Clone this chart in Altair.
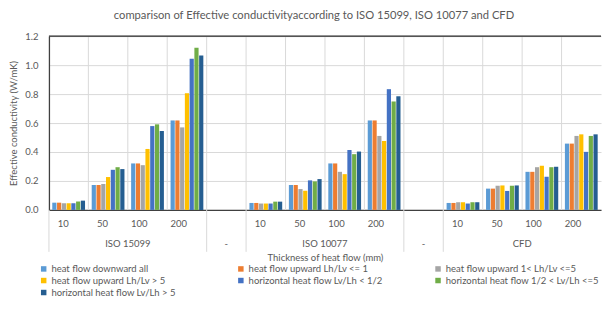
import altair as alt
import pandas as pd

groups = ["ISO 15099", "ISO 10077", "CFD"]
thicknesses = ["10", "50", "100", "200"]
series = [
    "heat flow downward all",
    "heat flow upward  Lh/Lv <= 1",
    "heat flow upward  1<  Lh/Lv <=5",
    "heat flow upward  Lh/Lv > 5",
    "horizontal heat flow  Lv/Lh < 1/2",
    "horizontal heat flow  1/2 <  Lv/Lh <=5",
    "horizontal heat flow  Lv/Lh > 5",
]
colors = ["#5B9BD5", "#ED7D31", "#A5A5A5", "#FFC000", "#4472C4", "#70AD47", "#255E91"]

# values per series: ISO 15099 (10,50,100,200), ISO 10077 (...), CFD (...)
s_down = [0.050, 0.172, 0.321, 0.618, 0.048, 0.172, 0.321, 0.618, 0.048, 0.147, 0.263, 0.458]
s_up1 = [0.050, 0.172, 0.321, 0.618, 0.048, 0.172, 0.321, 0.618, 0.048, 0.147, 0.263, 0.458]
s_up15 = [0.046, 0.179, 0.309, 0.570, 0.044, 0.144, 0.263, 0.511, 0.053, 0.167, 0.295, 0.511]
s_up5 = [0.046, 0.227, 0.421, 0.806, 0.044, 0.133, 0.247, 0.476, 0.053, 0.169, 0.305, 0.522]
s_h12 = [0.046, 0.277, 0.579, 1.044, 0.044, 0.204, 0.414, 0.834, 0.044, 0.131, 0.229, 0.401]
s_h125 = [0.058, 0.295, 0.591, 1.120, 0.057, 0.197, 0.385, 0.749, 0.053, 0.167, 0.295, 0.511]
s_h5 = [0.064, 0.282, 0.545, 1.067, 0.057, 0.213, 0.403, 0.785, 0.053, 0.169, 0.298, 0.522]
all_values = [s_down, s_up1, s_up15, s_up5, s_h12, s_h125, s_h5]
y_ticks = [0, 0.2, 0.4, 0.6, 0.8, 1.0, 1.2]

# slot keys (with empty "-" gap slots between groups)
slots = []
for gi, g in enumerate(groups):
    for t in thicknesses:
        slots.append(f"{g}|{t}")
    if gi < len(groups) - 1:
        slots.append(f"-{gi}|")

rows = []
for si, s in enumerate(series):
    for gi, g in enumerate(groups):
        for ti, t in enumerate(thicknesses):
            rows.append({"slot": f"{g}|{t}", "series": s, "value": all_values[si][gi * 4 + ti]})
df = pd.DataFrame(rows)

W, H = 553, 174
GRAY = "#595959"
FS = 9.5
xscale = alt.Scale(domain=slots, paddingInner=0, paddingOuter=0)

bars = alt.Chart(df).mark_bar().encode(
    x=alt.X("slot:N", scale=xscale, sort=slots,
            axis=alt.Axis(title="Thickness of heat flow (mm)", labelExpr="split(datum.value, '|')[1]",
                          labelAngle=0, ticks=False, tickSize=0, labelPadding=14, grid=False,
                          domainColor="#404040", domainWidth=1.3, labelColor=GRAY, labelFontSize=FS,
                          titleColor=GRAY, titleFontSize=FS, titleFontWeight="normal", titlePadding=24.5)),
    xOffset=alt.XOffset("series:N", sort=series, scale=alt.Scale(paddingInner=0.12, paddingOuter=0.7)),
    y=alt.Y("value:Q", scale=alt.Scale(domain=[0, 1.2]),
            axis=alt.Axis(title="Effective conductivity (W/mK)", values=y_ticks, labelOverlap=False,
                          format=".1f", ticks=False, tickSize=0, labelPadding=11,
                          gridColor="#D9D9D9", domainColor="#404040", domainWidth=1.3,
                          labelColor=GRAY, labelFontSize=FS, titleColor=GRAY, titleFontSize=FS,
                          titleFontWeight="normal", titlePadding=6)),
    color=alt.Color("series:N", sort=series, scale=alt.Scale(domain=series, range=colors),
                    legend=alt.Legend(title=None, orient="none", legendX=-10, legendY=H + 54,
                                      columns=3, direction="horizontal", gridAlign="all",
                                      columnPadding=26.5, rowPadding=1, symbolType="square",
                                      symbolSize=30, symbolStrokeWidth=0, labelFontSize=FS,
                                      labelLimit=220, labelColor=GRAY, symbolOffset=0, labelOffset=3)),
)

# vertical grid lines
inner = pd.DataFrame({"slot": [s for i, s in enumerate(slots) if i > 0]})
long_keys = [slots[0]] + [slots[i] for i in range(len(slots))
                          if slots[i].startswith("-") or (i > 0 and slots[i - 1].startswith("-"))]
inner_lines = alt.Chart(inner).mark_rule(color="#D9D9D9", strokeWidth=1).encode(
    x=alt.X("slot:N", scale=xscale, sort=slots, bandPosition=0),
    y=alt.value(0), y2=alt.value(H),
)
long_lines = alt.Chart(pd.DataFrame({"slot": long_keys})).mark_rule(color="#D9D9D9", strokeWidth=1).encode(
    x=alt.X("slot:N", scale=xscale, sort=slots, bandPosition=0),
    y=alt.value(H), y2=alt.value(H + 42),
)
top_border = alt.Chart(pd.DataFrame({"v": [1.2]})).mark_rule(color="#262626", strokeWidth=1.3).encode(
    x=alt.value(0), x2=alt.value(W), y=alt.value(0)
)

group_df = pd.DataFrame({"slot": [f"{g}|50" for g in groups], "label": groups})
group_text = alt.Chart(group_df).mark_text(fontSize=FS, color=GRAY, baseline="middle").encode(
    x=alt.X("slot:N", scale=xscale, sort=slots, bandPosition=1),
    y=alt.value(H + 34), text="label:N",
)
gap_df = pd.DataFrame({"slot": [s for s in slots if s.startswith("-")], "label": ["-", "-"]})
gap_text = alt.Chart(gap_df).mark_text(fontSize=FS, color=GRAY, baseline="middle").encode(
    x=alt.X("slot:N", scale=xscale, sort=slots, bandPosition=0.5),
    y=alt.value(H + 34), text="label:N",
)

chart = alt.layer(
    inner_lines, long_lines, bars, top_border, group_text, gap_text
).properties(
    width=W, height=H,
    title=alt.Title("comparison of Effective conductivityaccording to  ISO 15099, ISO 10077 and CFD",
                    fontSize=11.2, fontWeight="normal", color=GRAY, offset=10.5, anchor="middle", dx=-11),
    padding={"left": 0, "top": 1, "right": 0, "bottom": 0},
).configure(font="Lato").configure_view(stroke=None)

chart.save("out.html", embed_options={"renderer": "svg", "actions": False})
